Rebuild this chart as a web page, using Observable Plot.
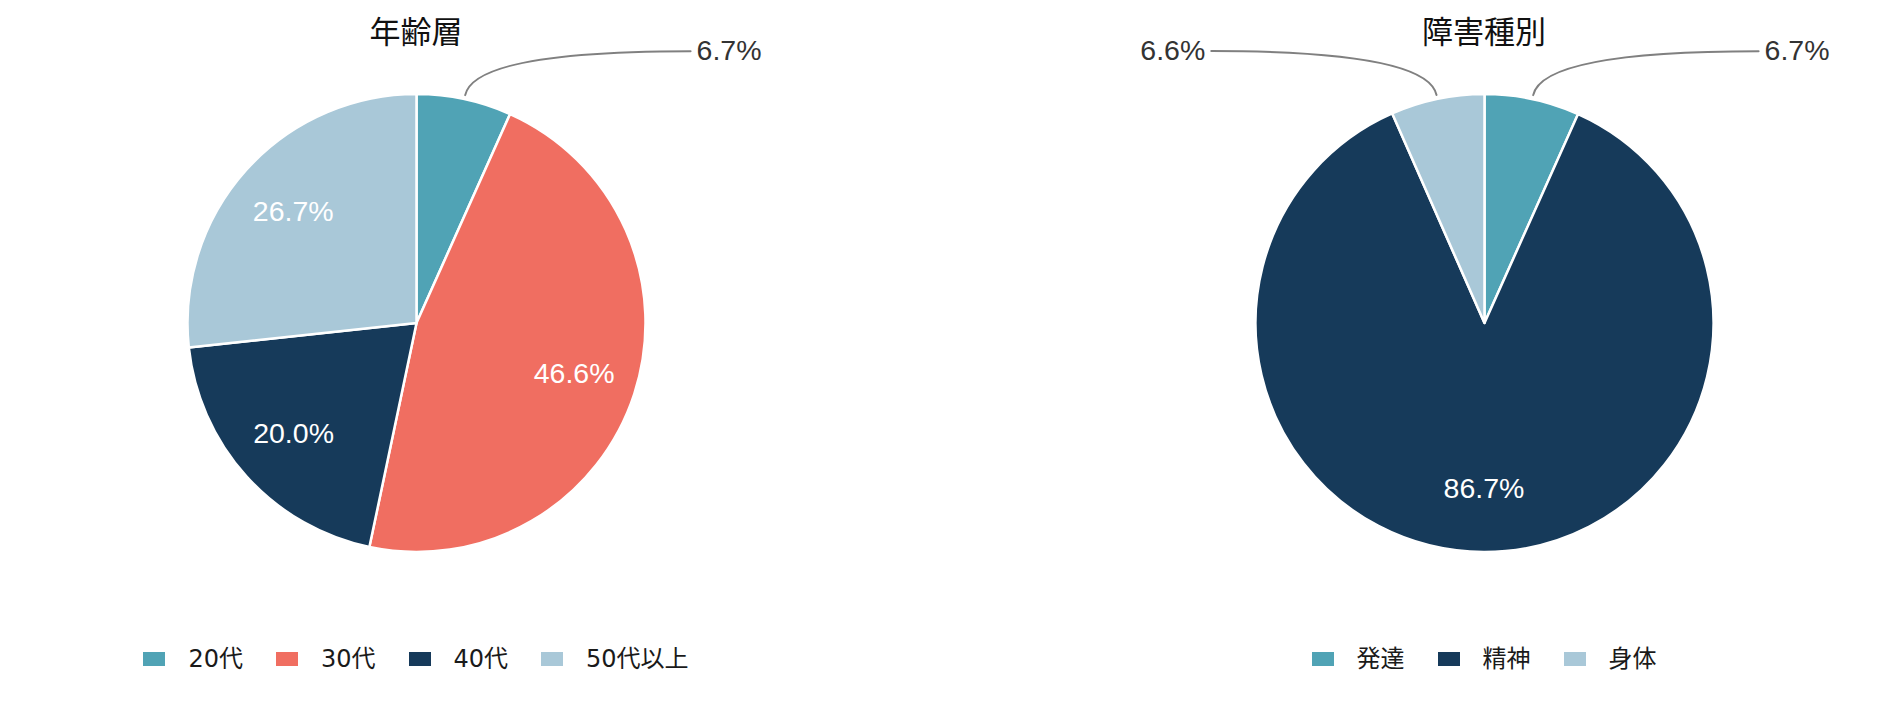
<!DOCTYPE html>
<html><head><meta charset="utf-8">
<script src="https://cdn.jsdelivr.net/npm/d3@7"></script>
<script src="https://cdn.jsdelivr.net/npm/@observablehq/plot@0.6"></script>
<style>
body{margin:0;background:#fff;}
#wrap{position:relative;width:1900px;height:702px;overflow:hidden;font-family:"Liberation Sans","Noto Sans CJK JP",sans-serif;}
.col{position:absolute;top:0;width:832px;}
.title{position:relative;height:30px;z-index:2;}
.title span{position:absolute;left:0;right:0;top:14px;text-align:center;font-family:"Noto Sans CJK JP",sans-serif;font-size:31px;line-height:31px;color:#111;}
.legend{display:flex;justify-content:center;align-items:center;height:30px;margin-top:24px;font-family:"DejaVu Sans","Noto Sans CJK JP",sans-serif;font-size:24px;line-height:30px;color:#1a1a1a;}
.item{display:flex;align-items:center;margin:0 16.5px;}
.sw{width:22px;height:14px;margin-right:23px;}
svg{display:block;}
</style>
</head><body>
<div id="wrap"></div>
<script>
// ---- data ----
const chartTitles = ["年齢層", "障害種別"];
const ageCategories = ["20代", "30代", "40代", "50代以上"];
const agePercents = [6.7, 46.6, 20.0, 26.7];
const ageColors = ["#50A3B5", "#F06E61", "#163A5A", "#A9C8D8"];
const typeCategories = ["発達", "精神", "身体"];
const typePercents = [6.7, 86.7, 6.6];
const typeColors = ["#50A3B5", "#163A5A", "#A9C8D8"];

// ---- layout ----
const W = 832, H = 590, CX = 416, CY = 292.5, R = 229;
const columnLefts = [0, 1068];

function sliceCurve(context) {
  let pts;
  return {
    areaStart() {}, areaEnd() {},
    lineStart() { pts = []; },
    point(x, y) { pts.push([+x, +y]); },
    lineEnd() {
      const [[cx, cy], [x0, y0], [x1, y1]] = pts;
      const r = Math.hypot(x0 - cx, y0 - cy);
      const a0 = Math.atan2(y0 - cy, x0 - cx), a1 = Math.atan2(y1 - cy, x1 - cx);
      context.moveTo(cx, cy);
      context.lineTo(x0, y0);
      context.arc(cx, cy, r, a0, a1, false);
      context.closePath();
    }
  };
}
function quadCurve(context) {
  let pts;
  return {
    areaStart() {}, areaEnd() {},
    lineStart() { pts = []; },
    point(x, y) { pts.push([+x, +y]); },
    lineEnd() {
      const [p0, p1, p2] = pts;
      context.moveTo(p0[0], p0[1]);
      context.quadraticCurveTo(p1[0], p1[1], p2[0], p2[1]);
    }
  };
}

function buildPie(cats, vals, colors) {
  const total = d3.sum(vals);
  let acc = 0;
  const slices = cats.map((c, i) => {
    const a0 = acc / total * 2 * Math.PI; acc += vals[i];
    const a1 = acc / total * 2 * Math.PI;
    return {cat: c, value: vals[i], a0, a1, mid: (a0 + a1) / 2};
  });
  const pt = (r, a) => ({x: r * Math.sin(a), y: r * Math.cos(a)});
  const fmt = v => v.toFixed(1) + "%";
  const slicePts = slices.flatMap(s => [
    {cat: s.cat, x: 0, y: 0},
    {cat: s.cat, ...pt(R, s.a0)},
    {cat: s.cat, ...pt(R, s.a1)}
  ]);
  const inside = slices.filter(s => s.value >= 10).map(s => ({...pt(R * 0.7237, s.mid), label: fmt(s.value)}));
  const outside = slices.filter(s => s.value < 10).map(s => {
    const p0 = pt(R + 4, s.mid), p1 = pt(R + 49, s.mid);
    const side = Math.sin(s.mid) >= 0 ? 1 : -1;
    const p2 = {x: p1.x + side * 216, y: p1.y};
    return {cat: s.cat, p0, p1, p2, side, label: fmt(s.value), x: p2.x, y: p2.y};
  });
  const leaderPts = outside.flatMap(o => [
    {cat: o.cat, ...o.p0}, {cat: o.cat, ...o.p1}, {cat: o.cat, ...o.p2}
  ]);
  return Plot.plot({
    width: W, height: H, margin: 0,
    x: {domain: [-CX, W - CX], axis: null},
    y: {domain: [-(H - CY), CY], axis: null},
    color: {domain: cats, range: colors},
    style: {background: "transparent", overflow: "visible", fontFamily: "Liberation Sans, Noto Sans CJK JP, sans-serif"},
    marks: [
      Plot.line(slicePts, {x: "x", y: "y", z: "cat", fill: "cat", stroke: "white", strokeWidth: 2.5, curve: sliceCurve}),
      Plot.line(leaderPts, {x: "x", y: "y", z: "cat", stroke: "#808080", strokeWidth: 2, curve: quadCurve}),
      Plot.text(inside, {x: "x", y: "y", text: "label", fill: "white", fontSize: 28.5}),
      Plot.text(outside.filter(o => o.side > 0), {x: "x", y: "y", text: "label", textAnchor: "start", dx: 6, fill: "#333", fontSize: 28.5}),
      Plot.text(outside.filter(o => o.side < 0), {x: "x", y: "y", text: "label", textAnchor: "end", dx: -6, fill: "#333", fontSize: 28.5})
    ]
  });
}

function buildColumn(i, title, cats, vals, colors) {
  const col = document.createElement("div");
  col.className = "col";
  col.style.left = columnLefts[i] + "px";
  const t = document.createElement("div");
  t.className = "title";
  const ts = document.createElement("span");
  ts.textContent = title;
  t.appendChild(ts);
  col.appendChild(t);
  col.appendChild(buildPie(cats, vals, colors));
  const lg = document.createElement("div");
  lg.className = "legend";
  cats.forEach((c, k) => {
    const it = document.createElement("div");
    it.className = "item";
    const sw = document.createElement("div");
    sw.className = "sw";
    sw.style.background = colors[k];
    const tx = document.createElement("span");
    tx.textContent = c;
    it.appendChild(sw); it.appendChild(tx);
    lg.appendChild(it);
  });
  col.appendChild(lg);
  document.getElementById("wrap").appendChild(col);
}

buildColumn(0, chartTitles[0], ageCategories, agePercents, ageColors);
buildColumn(1, chartTitles[1], typeCategories, typePercents, typeColors);
</script>
</body></html>
